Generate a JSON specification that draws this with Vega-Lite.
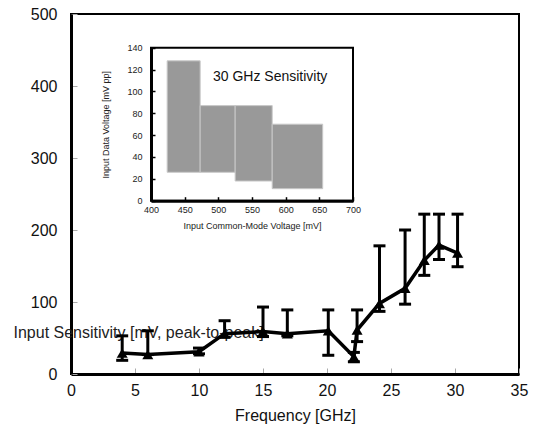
{
  "$schema": "https://vega.github.io/schema/vega-lite/v6.json",
  "width": 448,
  "height": 360,
  "autosize": "none",
  "padding": {"left": 71, "top": 14, "right": 19, "bottom": 64},
  "background": "white",
  "config": {
    "font": "Liberation Sans",
    "view": {"stroke": "black", "strokeWidth": 2},
    "axis": {"grid": false}
  },
  "datasets": {
    "main": [
      {"freq": 4.0, "value": 29, "lo": 19, "hi": 53},
      {"freq": 6.0, "value": 27, "lo": 27, "hi": 60},
      {"freq": 10.0, "value": 31, "lo": 28, "hi": 36},
      {"freq": 12.0, "value": 56, "lo": 51, "hi": 74},
      {"freq": 15.0, "value": 59, "lo": 52, "hi": 93},
      {"freq": 16.9, "value": 56, "lo": 53, "hi": 89},
      {"freq": 20.1, "value": 60, "lo": 26, "hi": 89},
      {"freq": 22.1, "value": 24, "lo": 17, "hi": 30},
      {"freq": 22.35, "value": 61, "lo": 45, "hi": 89},
      {"freq": 24.1, "value": 98, "lo": 87, "hi": 178},
      {"freq": 26.1, "value": 119, "lo": 97, "hi": 200},
      {"freq": 27.6, "value": 158, "lo": 137, "hi": 222},
      {"freq": 28.75, "value": 179, "lo": 159, "hi": 222},
      {"freq": 30.2, "value": 168, "lo": 149, "hi": 222}
    ],
    "inset": [
      {"v1": 424, "v2": 473, "lo": 26, "hi": 128},
      {"v1": 473, "v2": 525, "lo": 26, "hi": 87},
      {"v1": 525, "v2": 580, "lo": 18, "hi": 87},
      {"v1": 580, "v2": 655, "lo": 11, "hi": 70}
    ],
    "insetFrame": [{"v1": 400, "v2": 700, "lo": 0, "hi": 140}],
    "insetLabel": [{"v1": 577, "lo": 113, "label": "30 GHz Sensitivity"}]
  },
  "layer": [
    {
      "data": {"name": "main"},
      "layer": [
        {
          "mark": {"type": "rule", "strokeWidth": 3, "color": "black"},
          "encoding": {
            "x": {
              "field": "freq", "type": "quantitative",
              "scale": {"domain": [0, 35], "nice": false},
              "axis": {
                "values": [0, 5, 10, 15, 20, 25, 30, 35],
                "title": "Frequency [GHz]",
                "domainColor": "black", "domainWidth": 3,
                "tickColor": "#aaaaaa", "tickSize": -6, "tickWidth": 1,
                "labelFontSize": 16, "labelColor": "#111111", "labelPadding": 14,
                "labelFlush": false,
                "titleFontSize": 16, "titleFontWeight": "normal", "titleColor": "#111111", "titlePadding": 9
              }
            },
            "y": {
              "field": "lo", "type": "quantitative",
              "scale": {"domain": [0, 500], "nice": false},
              "axis": {
                "values": [0, 100, 200, 300, 400, 500],
                "title": "Input Sensitivity [mV, peak-to-peak]",
                "domainColor": "black", "domainWidth": 3,
                "tickColor": "#aaaaaa", "tickSize": -6, "tickWidth": 1,
                "labelFontSize": 16, "labelColor": "#111111", "labelPadding": 20,
                "labelFlush": false,
                "titleFontSize": 16, "titleFontWeight": "normal", "titleColor": "#222222",
                "titleAngle": 0, "titleX": -58, "titleY": 318, "titleAlign": "left", "titleBaseline": "middle"
              }
            },
            "y2": {"field": "hi"}
          }
        },
        {
          "mark": {"type": "tick", "orient": "horizontal", "thickness": 3, "size": 12, "color": "black", "opacity": 1},
          "encoding": {
            "x": {"field": "freq", "type": "quantitative"},
            "y": {"field": "lo", "type": "quantitative"}
          }
        },
        {
          "mark": {"type": "tick", "orient": "horizontal", "thickness": 3, "size": 12, "color": "black", "opacity": 1},
          "encoding": {
            "x": {"field": "freq", "type": "quantitative"},
            "y": {"field": "hi", "type": "quantitative"}
          }
        },
        {
          "mark": {"type": "line", "color": "black", "strokeWidth": 3.5},
          "encoding": {
            "x": {"field": "freq", "type": "quantitative"},
            "y": {"field": "value", "type": "quantitative"}
          }
        },
        {
          "mark": {"type": "point", "shape": "triangle-up", "filled": true, "size": 120, "color": "black", "opacity": 1},
          "encoding": {
            "x": {"field": "freq", "type": "quantitative"},
            "y": {"field": "value", "type": "quantitative"}
          }
        }
      ]
    },
    {
      "layer": [
        {
          "data": {"name": "insetFrame"},
          "mark": {"type": "rect", "fill": "white", "fillOpacity": 0, "stroke": "black", "strokeWidth": 2, "strokeOpacity": 1},
          "encoding": {
            "x": {
              "field": "v1", "type": "quantitative",
              "scale": {"domain": [400, 700], "range": [80, 282], "nice": false},
              "axis": {
                "orient": "bottom", "offset": -173.3, "zindex": 1,
                "values": [400, 450, 500, 550, 600, 650, 700],
                "title": "Input Common-Mode Voltage [mV]",
                "domainColor": "black", "domainWidth": 3,
                "tickColor": "black", "tickSize": -4, "tickWidth": 1.5,
                "labelFontSize": 9, "labelColor": "#222222", "labelPadding": 9, "labelFlush": false,
                "titleFontSize": 9, "titleFontWeight": "normal", "titleColor": "#222222", "titlePadding": 7
              }
            },
            "x2": {"field": "v2"},
            "y": {
              "field": "lo", "type": "quantitative",
              "scale": {"domain": [0, 140], "range": [186.7, 33.7], "nice": false},
              "axis": {
                "orient": "left", "offset": -80, "zindex": 1,
                "values": [0, 20, 40, 60, 80, 100, 120, 140],
                "title": "Input Data Voltage [mV pp]",
                "domainColor": "black", "domainWidth": 3,
                "tickColor": "black", "tickSize": -4, "tickWidth": 1.5,
                "labelFontSize": 9, "labelColor": "#222222", "labelPadding": 13, "labelFlush": false,
                "titleFontSize": 9, "titleFontWeight": "normal", "titleColor": "#222222", "titlePadding": 16
              }
            },
            "y2": {"field": "hi"}
          }
        },
        {
          "data": {"name": "inset"},
          "mark": {"type": "rect", "fill": "#999999", "stroke": "#c8c8c8", "strokeWidth": 1},
          "encoding": {
            "x": {"field": "v1", "type": "quantitative"},
            "x2": {"field": "v2"},
            "y": {"field": "lo", "type": "quantitative"},
            "y2": {"field": "hi"}
          }
        },
        {
          "data": {"name": "insetLabel"},
          "mark": {"type": "text", "fontSize": 14, "color": "#111111", "align": "center", "baseline": "middle"},
          "encoding": {
            "x": {"field": "v1", "type": "quantitative"},
            "y": {"field": "lo", "type": "quantitative"},
            "text": {"field": "label"}
          }
        }
      ]
    }
  ],
  "resolve": {
    "scale": {"x": "independent", "y": "independent"},
    "axis": {"x": "independent", "y": "independent"}
  }
}
